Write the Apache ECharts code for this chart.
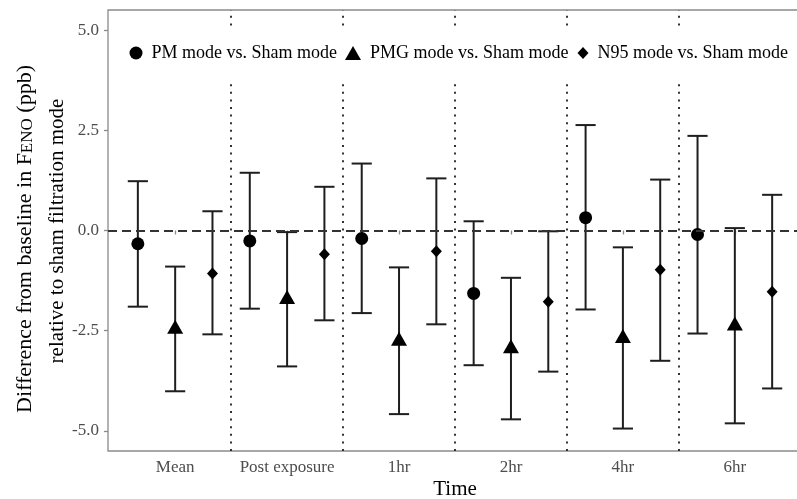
<!DOCTYPE html>
<html>
<head>
<meta charset="utf-8">
<script src="https://cdn.jsdelivr.net/npm/echarts@6/dist/echarts.min.js"></script>
<style>
  html, body { margin: 0; padding: 0; background: #fff; }
  #chart { width: 797px; height: 499px; }
</style>
</head>
<body>
<div id="chart"></div>
<script>
// ---- data ----
const categories = ['Mean', 'Post exposure', '1hr', '2hr', '4hr', '6hr'];
const groupNames = ['PM mode vs. Sham mode', 'PMG mode vs. Sham mode', 'N95 mode vs. Sham mode'];

const pmEst  = [-0.33, -0.26, -0.20, -1.57,  0.32, -0.10];
const pmLow  = [-1.90, -1.95, -2.06, -3.36, -1.97, -2.57];
const pmHigh = [ 1.23,  1.44,  1.67,  0.23,  2.63,  2.36];

const pmgEst  = [-2.45, -1.71, -2.75, -2.94, -2.68, -2.37];
const pmgLow  = [-4.01, -3.39, -4.58, -4.71, -4.94, -4.81];
const pmgHigh = [-0.90, -0.04, -0.92, -1.18, -0.42,  0.06];

const n95Est  = [-1.07, -0.59, -0.52, -1.78, -0.98, -1.53];
const n95Low  = [-2.59, -2.24, -2.34, -3.52, -3.25, -3.94];
const n95High = [ 0.48,  1.09,  1.30, -0.02,  1.27,  0.89];

const yTicks = [-5, -2.5, 0, 2.5, 5];

// ---- layout helpers ----
const FONT = "'Liberation Serif', 'Times New Roman', serif";
const dodge = [-1 / 3, 0, 1 / 3];
const capHalf = 0.09;
const catPos = categories.map((c, i) => i + 1);
const dividers = categories.slice(1).map((c, i) => i + 1.5);

const groups = [
  { est: pmEst,  low: pmLow,  high: pmHigh,  symbol: 'circle',   size: 13,       offset: [0, 0] },
  { est: pmgEst, low: pmgLow, high: pmgHigh, symbol: 'triangle', size: [16, 14], offset: [0, -2] },
  { est: n95Est, low: n95Low, high: n95High, symbol: 'diamond',  size: [11, 12], offset: [0, 0] }
];

const series = [];
// error bars
groups.forEach((g, gi) => {
  series.push({
    type: 'custom',
    name: 'err' + gi,
    silent: true,
    z: 2,
    data: g.est.map((v, i) => [catPos[i] + dodge[gi], g.low[i], g.high[i]]),
    renderItem: function (params, api) {
      const x = api.value(0), lo = api.value(1), hi = api.value(2);
      const pLo = api.coord([x, lo]);
      const pHi = api.coord([x, hi]);
      const lL = api.coord([x - capHalf, lo]), lR = api.coord([x + capHalf, lo]);
      const hL = api.coord([x - capHalf, hi]), hR = api.coord([x + capHalf, hi]);
      const st = { stroke: '#1e1e1e', lineWidth: 2, fill: null };
      return {
        type: 'group',
        children: [
          { type: 'line', shape: { x1: pLo[0], y1: pLo[1], x2: pHi[0], y2: pHi[1] }, style: st },
          { type: 'line', shape: { x1: lL[0], y1: lL[1], x2: lR[0], y2: lR[1] }, style: st },
          { type: 'line', shape: { x1: hL[0], y1: hL[1], x2: hR[0], y2: hR[1] }, style: st }
        ]
      };
    }
  });
});
// reference lines
series.push({
  type: 'line',
  name: 'refs',
  data: [],
  silent: true,
  z: 1,
  markLine: {
    silent: true,
    symbol: 'none',
    animation: false,
    label: { show: false },
    emphasis: { disabled: true },
    data: dividers.map(d => ({
      xAxis: d,
      lineStyle: { type: [2, 5.6], color: '#333', width: 2 }
    })).concat([{
      yAxis: 0,
      lineStyle: { type: [9, 5], color: '#333', width: 2 }
    }])
  }
});
// points
groups.forEach((g, gi) => {
  series.push({
    type: 'scatter',
    name: groupNames[gi],
    symbol: g.symbol,
    symbolSize: g.size,
    symbolOffset: g.offset,
    z: 3,
    itemStyle: { color: '#000', opacity: 1 },
    data: g.est.map((v, i) => [catPos[i] + dodge[gi], v])
  });
});

const legendBase = {
  top: 27,
  orient: 'horizontal',
  backgroundColor: '#fff',
  selectedMode: false,
  z: 10,
  textStyle: { fontFamily: FONT, fontSize: 18, color: '#000', padding: [0, 0, 0, 4] }
};
const legends = [
  Object.assign({}, legendBase, { left: 119.5, padding: [17, 5, 17, 10], itemWidth: 13, itemHeight: 13,
    data: [{ name: groupNames[0], icon: 'circle' }] }),
  Object.assign({}, legendBase, { left: 340, padding: [17, 5, 17, 5], itemWidth: 16, itemHeight: 14,
    data: [{ name: groupNames[1], icon: 'triangle' }] }),
  Object.assign({}, legendBase, { left: 572.5, padding: [17, 10, 17, 5], itemWidth: 11, itemHeight: 12,
    data: [{ name: groupNames[2], icon: 'diamond' }] })
];

const chart = echarts.init(document.getElementById('chart'), null, { renderer: 'canvas' });
chart.setOption({
  animation: false,
  backgroundColor: '#fff',
  grid: {
    left: 108, top: 10, width: 694, height: 441,
    outerBoundsMode: 'none',
    containLabel: false,
    show: true, borderColor: '#8a8a8a', borderWidth: 1.3, backgroundColor: 'transparent'
  },
  legend: legends,
  xAxis: {
    type: 'value', min: 0.4, max: 6.6,
    splitLine: { show: false },
    axisLine: { show: false },
    axisTick: { show: true, customValues: catPos, length: 4, lineStyle: { color: '#8a8a8a', width: 1.3 } },
    axisLabel: {
      customValues: catPos,
      formatter: v => categories[Math.round(v) - 1],
      fontFamily: FONT, fontSize: 17, color: '#4d4d4d', margin: 8
    }
  },
  yAxis: {
    type: 'value', min: -5.5, max: 5.5,
    splitLine: { show: false },
    axisLine: { show: false },
    axisTick: { show: true, customValues: yTicks, length: 4, lineStyle: { color: '#8a8a8a', width: 1.3 } },
    axisLabel: {
      customValues: yTicks,
      formatter: v => v.toFixed(1),
      fontFamily: FONT, fontSize: 17, color: '#4d4d4d', margin: 9
    }
  },
  graphic: [
    {
      type: 'text', x: 455, y: 489, z: 20,
      style: { text: 'Time', font: '21px ' + FONT, fill: '#000', align: 'center', verticalAlign: 'middle' }
    },
    {
      type: 'text', x: 25, y: 239, rotation: Math.PI / 2, z: 20,
      style: {
        text: '{a|Difference from baseline in F}{s|ENO}{a| (ppb)}',
        align: 'center', verticalAlign: 'middle',
        rich: {
          a: { fontFamily: FONT, fontSize: 22, fill: '#000', lineHeight: 26 },
          s: { fontFamily: FONT, fontSize: 17, fill: '#000', lineHeight: 26, verticalAlign: 'bottom', padding: [0, 0, 2, 0] }
        }
      }
    },
    {
      type: 'text', x: 57, y: 231, rotation: Math.PI / 2, z: 20,
      style: { text: 'relative to sham filtration mode', font: '21px ' + FONT, fill: '#000', align: 'center', verticalAlign: 'middle' }
    }
  ],
  series: series
});
</script>
</body>
</html>
